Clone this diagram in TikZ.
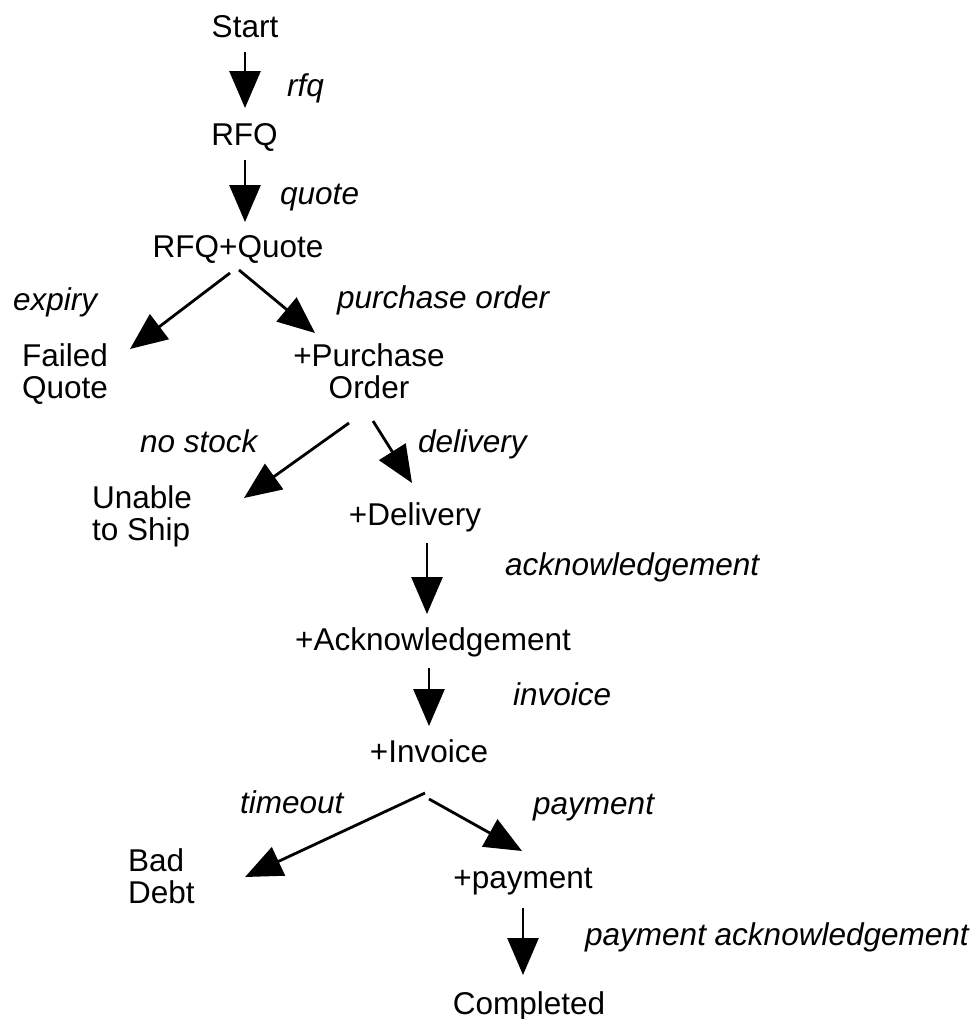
\documentclass[tikz,border=0pt]{standalone}
\usepackage{fontspec}
\setmainfont{Liberation Sans}
\usetikzlibrary{arrows.meta}
\begin{document}
\begin{tikzpicture}[x=1bp,y=-1bp,
  state/.style={inner sep=0pt,anchor=base,align=center,font=\fontsize{31.5bp}{31.5bp}\selectfont},
  stateL/.style={inner sep=0pt,anchor=base west,align=left,font=\fontsize{31.5bp}{31.5bp}\selectfont},
  lab/.style={inner sep=0pt,anchor=base west,font=\fontsize{31.5bp}{31.5bp}\selectfont\itshape},
  arr/.style={line width=2.8bp,-{Triangle[length=37bp,width=31bp]}}]
\useasboundingbox (0,0) rectangle (978,1019);
% states (multi-line nodes are placed by the baseline of their last line)
\node[state] (start) at (245,37) {Start};
\node[state] (rfq) at (244.5,145) {RFQ};
\node[state] (rfqq) at (238,257) {RFQ+Quote};
\node[stateL] (failed) at (22,398) {Failed\\Quote};
\node[state] (po) at (369,398) {+Purchase\\Order};
\node[stateL] (unable) at (92,540) {Unable\\to Ship};
\node[state] (delivery) at (415,525) {+Delivery};
\node[state] (ack) at (433,650) {+Acknowledgement};
\node[state] (invoice) at (429,762) {+Invoice};
\node[stateL] (bad) at (128,903) {Bad\\Debt};
\node[state] (payment) at (523,888) {+payment};
\node[state] (completed) at (529,1014) {Completed};
% transition labels
\node[lab] (lrfq) at (287,96) {rfq};
\node[lab] (lquote) at (280,204) {quote};
\node[lab] (lexpiry) at (13,310) {expiry};
\node[lab] (lpo) at (337,308) {purchase order};
\node[lab] (lnostock) at (140,452) {no stock};
\node[lab] (ldelivery) at (418,452) {delivery};
\node[lab] (lack) at (505,575) {acknowledgement};
\node[lab] (linvoice) at (513,705) {invoice};
\node[lab] (ltimeout) at (240,813) {timeout};
\node[lab] (lpayment) at (533,814) {payment};
\node[lab] (lpack) at (585,945) {payment acknowledgement};
% connector end points
\coordinate (start-out) at (245,52);   \coordinate (rfq-in) at (245,108);
\coordinate (rfq-out) at (245,160);    \coordinate (rfqq-in) at (245,222);
\coordinate (rfqq-outl) at (230,273);  \coordinate (failed-in) at (130,349);
\coordinate (rfqq-outr) at (239,270);  \coordinate (po-in) at (315,333);
\coordinate (po-outl) at (349,423);    \coordinate (unable-in) at (244,498);
\coordinate (po-outr) at (373,421);    \coordinate (delivery-in) at (412,483);
\coordinate (delivery-out) at (427,543); \coordinate (ack-in) at (427,614);
\coordinate (ack-out) at (429,668);    \coordinate (invoice-in) at (429,726);
\coordinate (invoice-outl) at (425,793); \coordinate (bad-in) at (245,877);
\coordinate (invoice-outr) at (429,799); \coordinate (payment-in) at (522,851);
\coordinate (payment-out) at (523,908); \coordinate (completed-in) at (523,975);
% connectors
\draw[arr] (start-out) -- (rfq-in);
\draw[arr] (rfq-out) -- (rfqq-in);
\draw[arr] (rfqq-outl) -- (failed-in);
\draw[arr] (rfqq-outr) -- (po-in);
\draw[arr] (po-outl) -- (unable-in);
\draw[arr] (po-outr) -- (delivery-in);
\draw[arr] (delivery-out) -- (ack-in);
\draw[arr] (ack-out) -- (invoice-in);
\draw[arr] (invoice-outl) -- (bad-in);
\draw[arr] (invoice-outr) -- (payment-in);
\draw[arr] (payment-out) -- (completed-in);
\end{tikzpicture}
\end{document}
